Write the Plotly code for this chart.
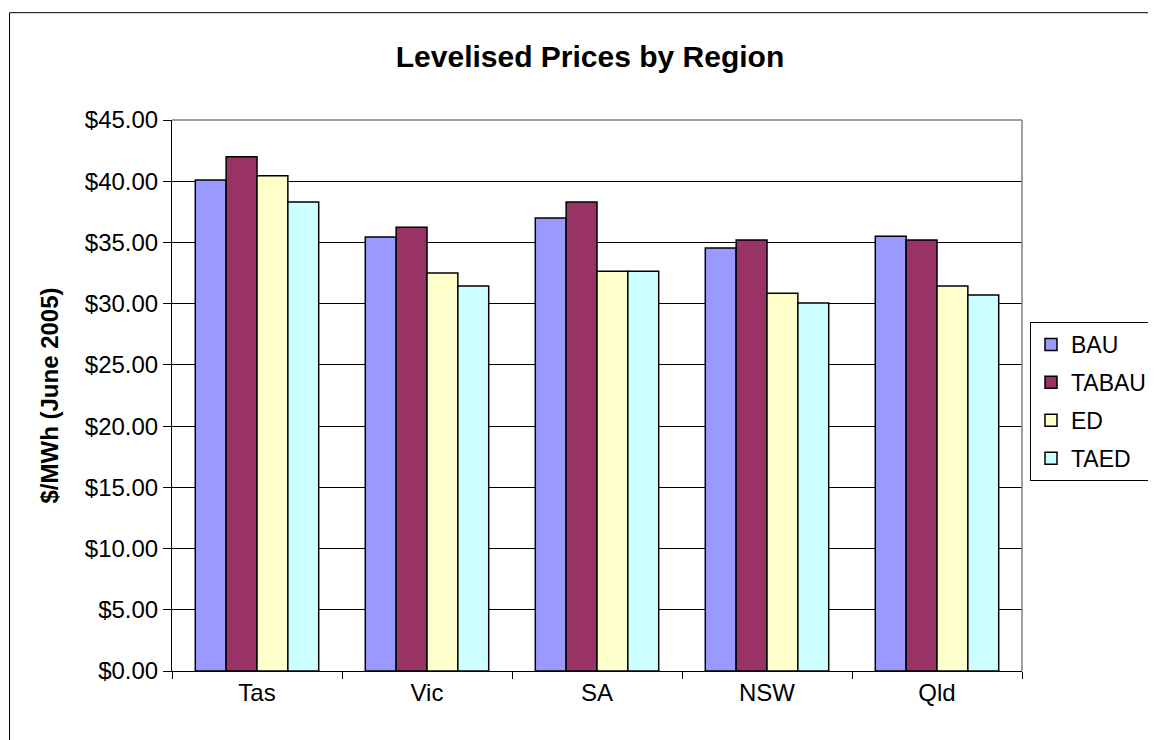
import plotly.graph_objects as go

regions = ["Tas", "Vic", "SA", "NSW", "Qld"]
series_names = ["BAU", "TABAU", "ED", "TAED"]
bau = [40.10, 35.45, 37.00, 34.55, 35.50]
tabau = [42.00, 36.25, 38.30, 35.20, 35.20]
ed = [40.45, 32.50, 32.65, 30.85, 31.45]
taed = [38.30, 31.45, 32.65, 30.05, 30.70]
series_values = [bau, tabau, ed, taed]
colors = ["#9999FF", "#993366", "#FFFFCC", "#CCFFFF"]

OFF = 8  # page body margin
W, H = 1156 - OFF, 740 - OFF
L, T = 172 - OFF, 120 - OFF
PW, PH = 850, 551
R, B = W - L - PW, H - T - PH

# convert screen pixel positions to paper coordinates
def px_x(x):
    return (x - OFF - L) / PW

def px_y(y):
    return (T + PH - (y - OFF)) / PH

FONT = "Liberation Sans, Arial, sans-serif"

fig = go.Figure()
for name, vals, col in zip(series_names, series_values, colors):
    fig.add_trace(go.Bar(
        x=regions, y=vals, name=name, legendgroup=name,
        marker=dict(color=col, line=dict(color="black", width=1.5)),
    ))

fig.update_layout(
    width=W, height=H,
    margin=dict(l=L, r=R, t=T, b=B, autoexpand=False),
    paper_bgcolor="white", plot_bgcolor="white",
    font=dict(family=FONT, size=24, color="black"),
    barmode="group", bargap=0.274, bargroupgap=0,
    title=dict(text="<b>Levelised Prices by Region</b>", font=dict(size=30, family=FONT),
               x=(590 - OFF) / W, xref="container", xanchor="center",
               y=1 - (56 - OFF) / H, yref="container", yanchor="middle"),
    showlegend=True,
    legend=dict(x=px_x(1030), y=px_y(322), xanchor="left", yanchor="top",
                bordercolor="black", borderwidth=1, bgcolor="white",
                font=dict(size=23, family=FONT), traceorder="grouped", tracegroupgap=5),
    xaxis=dict(showline=True, linecolor="black", linewidth=1,
               ticks="outside", ticklen=7, tickcolor="black", tickson="boundaries",
               showgrid=False, tickfont=dict(size=24)),
    yaxis=dict(range=[0, 45], dtick=5, tickprefix="$", tickformat=".2f",
               showline=True, linecolor="black", linewidth=1,
               ticks="outside", ticklen=8, tickcolor="black",
               showgrid=True, gridcolor="black", gridwidth=1, zeroline=False,
               tickfont=dict(size=24),
               title=dict(text="<b>$/MWh (June 2005)</b>", font=dict(size=24), standoff=19)),
    shapes=[
        # plot area top and right border (gray)
        dict(type="line", xref="paper", yref="paper", x0=0, x1=1, y0=1, y1=1,
             line=dict(color="#808080", width=1.5)),
        dict(type="line", xref="paper", yref="paper", x0=1, x1=1, y0=0, y1=1,
             line=dict(color="#808080", width=1.5)),
        # outer chart border (left and top visible)
        dict(type="line", xref="paper", yref="paper", x0=px_x(9.5), x1=px_x(1160),
             y0=px_y(12.7), y1=px_y(12.7), line=dict(color="black", width=1)),
        dict(type="line", xref="paper", yref="paper", x0=px_x(9.5), x1=px_x(9.5),
             y0=px_y(12.7), y1=px_y(745), line=dict(color="black", width=1)),
    ],
)

fig.write_html("out.html")
